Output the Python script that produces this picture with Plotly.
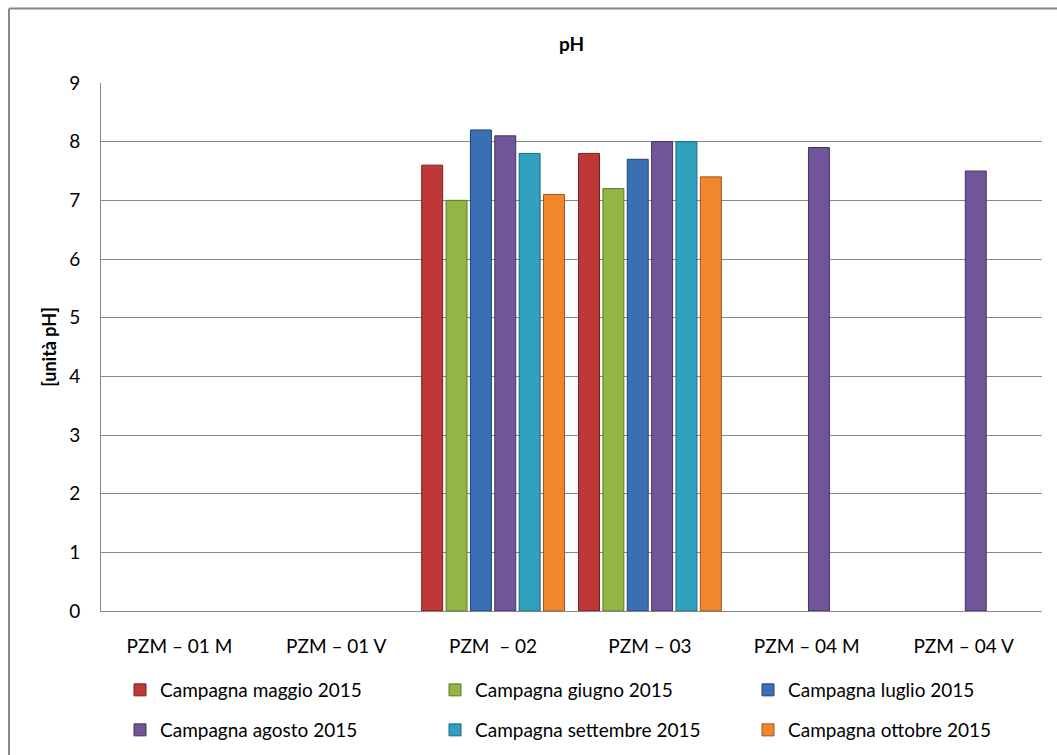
import plotly.graph_objects as go

categories = ["PZM – 01 M", "PZM – 01 V", "PZM  – 02", "PZM – 03", "PZM – 04 M", "PZM – 04 V"]
series_names = [
    "Campagna maggio 2015",
    "Campagna giugno 2015",
    "Campagna luglio 2015",
    "Campagna agosto 2015",
    "Campagna settembre 2015",
    "Campagna ottobre 2015",
]
maggio = [None, None, 7.6, 7.8, None, None]
giugno = [None, None, 7.0, 7.2, None, None]
luglio = [None, None, 8.2, 7.7, None, None]
agosto = [None, None, 8.1, 8.0, 7.9, 7.5]
settembre = [None, None, 7.8, 8.0, None, None]
ottobre = [None, None, 7.1, 7.4, None, None]
values = [maggio, giugno, luglio, agosto, settembre, ottobre]

colors = ["#BE3838", "#93B543", "#3A6FB3", "#72549A", "#2FA0BE", "#F2862A"]
edges = ["#7A1F1F", "#5E7A26", "#1F4677", "#47325F", "#1A6A80", "#A0561A"]

W, H = 1057, 755
L, R, T, B = 100.5, 1041.7, 83, 610.7

# legend slots (symbol centre in pixels) for each series
leg_cx = [140, 455, 768, 140, 455, 768]
leg_cy = [690, 690, 690, 730, 730, 730]

font_family = "Lato, 'Open Sans', sans-serif"

fig = go.Figure()
legend_layouts = {}
for i, (name, vals) in enumerate(zip(series_names, values)):
    lid = "legend" if i == 0 else f"legend{i + 1}"
    fig.add_trace(go.Bar(
        x=categories, y=vals, name=name,
        marker=dict(color=colors[i], line=dict(color=edges[i], width=1)),
        legend=lid, showlegend=True,
    ))
    legend_layouts[lid] = dict(
        orientation="h", xref="container", yref="container",
        x=(leg_cx[i] - 20) / W, xanchor="left",
        y=1 - leg_cy[i] / H, yanchor="middle",
        font=dict(size=19), bgcolor="rgba(0,0,0,0)",
        itemclick=False, itemdoubleclick=False,
    )

def px_x(px):
    return (px - L) / (R - L)

def px_y(py):
    return (B - py) / (B - T)

fig.update_layout(
    width=W, height=H,
    margin=dict(l=L, r=W - R, t=T, b=H - B),
    paper_bgcolor="white", plot_bgcolor="white",
    showlegend=True,
    barmode="group", bargap=0.068, bargroupgap=0.14,
    font=dict(family=font_family, size=19, color="#000000"),
    title=dict(text="<b>pH</b>", x=0.5, xref="paper", xanchor="center",
               y=1 - 44 / H, yref="container", yanchor="middle",
               font=dict(size=19, family=font_family)),
    xaxis=dict(showline=True, linecolor="#868686", linewidth=1, ticks="",
               showgrid=False, tickfont=dict(size=19), ticklabelstandoff=18),
    yaxis=dict(range=[0, 9], dtick=1, showline=True, linecolor="#868686", linewidth=1,
               showgrid=True, gridcolor="#868686", gridwidth=1, ticks="",
               tickfont=dict(size=19), ticklabelstandoff=16, zeroline=False,
               title=dict(text="<b>[unità pH]</b>", font=dict(size=18), standoff=7)),
    shapes=[
        dict(type="line", xref="paper", yref="paper", x0=px_x(8.5), x1=px_x(W + 5),
             y0=px_y(8.5), y1=px_y(8.5), line=dict(color="#868686", width=2)),
        dict(type="line", xref="paper", yref="paper", x0=px_x(8.5), x1=px_x(8.5),
             y0=px_y(8.5), y1=px_y(H + 5), line=dict(color="#868686", width=2)),
    ],
    **legend_layouts,
)

fig.write_html("out.html")
